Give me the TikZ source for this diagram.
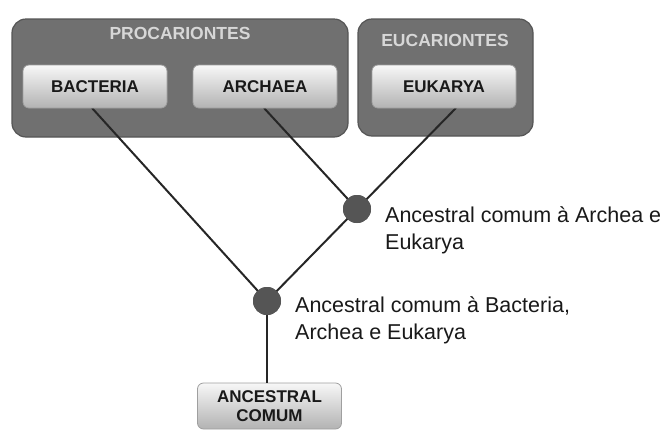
\documentclass[tikz,border=0pt]{standalone}
\usepackage{fontspec}
\setmainfont{Liberation Sans}
\definecolor{grp}{RGB}{112,112,112}
\definecolor{grpborder}{RGB}{85,85,85}
\definecolor{grptext}{RGB}{215,215,215}
\definecolor{dotc}{RGB}{85,85,85}
\begin{document}
\begin{tikzpicture}[x=1pt,y=-1pt,
  groupbox/.style={draw=grpborder,line width=1.2pt,fill=grp,rounded corners=14pt},
  grouptitle/.style={text=grptext,font=\fontsize{17.5}{20}\selectfont\bfseries,inner sep=0pt},
  taxon/.style={draw=gray!75,line width=0.8pt,rounded corners=6pt,top color=gray!6,bottom color=gray!60,
    minimum width=144pt,minimum height=43pt,inner sep=0pt,align=center,
    font=\fontsize{17}{20}\selectfont\bfseries,text=black!90},
  branch/.style={line width=2pt,black!85},
  dot/.style={circle,fill=dotc,minimum size=28pt,inner sep=0pt},
  note/.style={align=left,inner sep=0pt,font=\fontsize{21.5}{26.5}\selectfont,text=black!90}]
\useasboundingbox (0,0) rectangle (670,437);
% group boxes
\draw[groupbox] (12,19) rectangle (348,137);
\draw[groupbox] (358,19) rectangle (533,136);
\node[grouptitle] (tpro) at (180,33) {PROCARIONTES};
\node[grouptitle] (teu) at (445,40) {EUCARIONTES};
% branch points
\coordinate (bacs) at (92,108);
\coordinate (arcs) at (264,108);
\coordinate (euks) at (456,108);
\node[dot] (n1) at (357,209) {};
\node[dot] (n2) at (267,301) {};
% ancestor box
\node[taxon,minimum height=46pt] (anc) at (269.5,406) {ANCESTRAL\\[-1pt]COMUM};
% connectors
\draw[branch] (bacs) -- (n2.center);
\draw[branch] (arcs) -- (n1.center);
\draw[branch] (euks) -- (n1.center) -- (n2.center);
\draw[branch] (n2.center) -- (anc.north -| n2.center);
\node[dot] at (n1) {};
\node[dot] at (n2) {};
% taxa
\node[taxon] (bac) at (95,86.5) {BACTERIA};
\node[taxon] (arc) at (265,86.5) {ARCHAEA};
\node[taxon] (euk) at (444,86.5) {EUKARYA};
% labels
\node[note,anchor=base west] (l1) at (385,249) {Ancestral comum à Archea e\\Eukarya};
\node[note,anchor=base west] (l2) at (295,339) {Ancestral comum à Bacteria,\\Archea e Eukarya};
\end{tikzpicture}
\end{document}
